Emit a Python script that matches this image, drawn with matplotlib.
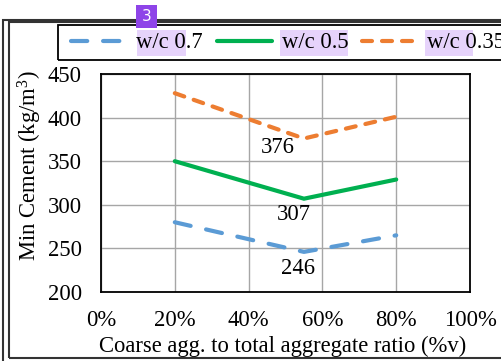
import matplotlib
matplotlib.use("Agg")
import matplotlib.pyplot as plt
from matplotlib.patches import Rectangle

plt.rcParams['font.family'] = ['Liberation Serif', 'DejaVu Serif']
plt.rcParams['mathtext.fontset'] = 'custom'
plt.rcParams['mathtext.rm'] = 'Liberation Serif'
plt.rcParams['mathtext.it'] = 'Liberation Serif:italic'

ratio = [20, 55, 80]
wc07 = [280, 246, 265]
wc05 = [350, 307, 329]
wc035 = [428, 376, 401]
series_names = ["w/c 0.7", "w/c 0.5", "w/c 0.35"]
xticks = [0, 20, 40, 60, 80, 100]
xticklabels = ["0%", "20%", "40%", "60%", "80%", "100%"]
yticks = [200, 250, 300, 350, 400, 450]

W, H = 502, 361
PX = 0.72  # points per pixel at dpi 100
fig = plt.figure(figsize=(W / 100, H / 100), dpi=100)
ax = fig.add_axes([101 / W, 1 - 292 / H, 369 / W, 218 / H])

blue = '#5b9bd5'
green = '#00b050'
orange = '#ed7d31'
lw = 3.0

l1, = ax.plot(ratio, wc07, color=blue, lw=lw, dashes=(3.9, 3.8), dash_capstyle='round')
l2, = ax.plot(ratio, wc05, color=green, lw=lw, solid_capstyle='round', solid_joinstyle='miter')
l3, = ax.plot(ratio, wc035, color=orange, lw=lw, dashes=(2.4, 2.4), dash_capstyle='round')

fs = 16.3
# minimum-value labels (pixel offsets from the minimum point)
for ys, dx, dy in [(wc035, -26, -8.5), (wc05, -10, -15.5), (wc07, -6, -16.5)]:
    i = ys.index(min(ys))
    ax.annotate(str(ys[i]), (ratio[i], ys[i]), xytext=(dx * PX, dy * PX), textcoords='offset points',
                ha='center', va='center', fontsize=fs)

ax.set_xlim(0, 100)
ax.set_ylim(200, 450)
ax.set_xticks(xticks)
ax.set_xticklabels(xticklabels)
ax.set_yticks(yticks)
ax.tick_params(length=0, labelsize=fs)
ax.tick_params(axis='x', pad=18 * PX)
ax.tick_params(axis='y', pad=19 * PX)
ax.grid(True, color='#a6a6a6', lw=1.0)
ax.set_axisbelow(True)
for s in ax.spines.values():
    s.set_linewidth(1.3)
    s.set_color('black')
ax.set_ylabel("Min Cement (kg/m$^\\mathrm{3}$)", fontsize=fs)
ax.yaxis.set_label_coords((44 - 101) / 369, (292 - 166) / 218)
ax.set_xlabel("Coarse agg. to total aggregate ratio (%v)", fontsize=fs)
ax.xaxis.set_label_coords((283 - 101) / 369, (292 - 336) / 218)

# outer frames (page decoration)
fig.add_artist(Rectangle((3 / W, -0.1), 2, 1 - 19.5 / H + 0.1, transform=fig.transFigure,
                         fill=False, lw=1.5, ec='#333333'))
fig.add_artist(Rectangle((9 / W, 3 / H), 2, 1 - 22 / H - 3 / H, transform=fig.transFigure,
                         fill=False, lw=1.5, ec='#333333'))

# selection highlights
for x0, x1 in [(137, 186), (280, 348), (425, 473)]:
    fig.add_artist(Rectangle((x0 / W, 1 - 56 / H), (x1 - x0) / W, 26 / H, transform=fig.transFigure,
                             color='#e6d3fb', lw=0, zorder=0))

# legend frame (extends past the right edge, as in the reference)
fig.add_artist(Rectangle((58 / W, 1 - 60 / H), 2, 35 / H, transform=fig.transFigure,
                         fill=False, lw=1.3, ec='black', zorder=3))

leg = fig.legend([l1, l2, l3], series_names, loc='center left', bbox_to_anchor=(71 / W, 1 - 43 / H),
                 borderaxespad=0, ncol=3, fontsize=fs, frameon=False,
                 handlelength=2.45, handletextpad=0.42, columnspacing=0.62, borderpad=0)
leg.set_zorder(3)

# badge
fig.add_artist(Rectangle((136 / W, 1 - 28 / H), 21 / W, 23 / H, transform=fig.transFigure,
                         color='#8e44e8', lw=0, zorder=4))
fig.text(146.5 / W, 1 - 16.5 / H, "3", color='white', ha='center', va='center', fontsize=11,
         family='DejaVu Sans', zorder=5)

fig.savefig("out.png", dpi=100)
